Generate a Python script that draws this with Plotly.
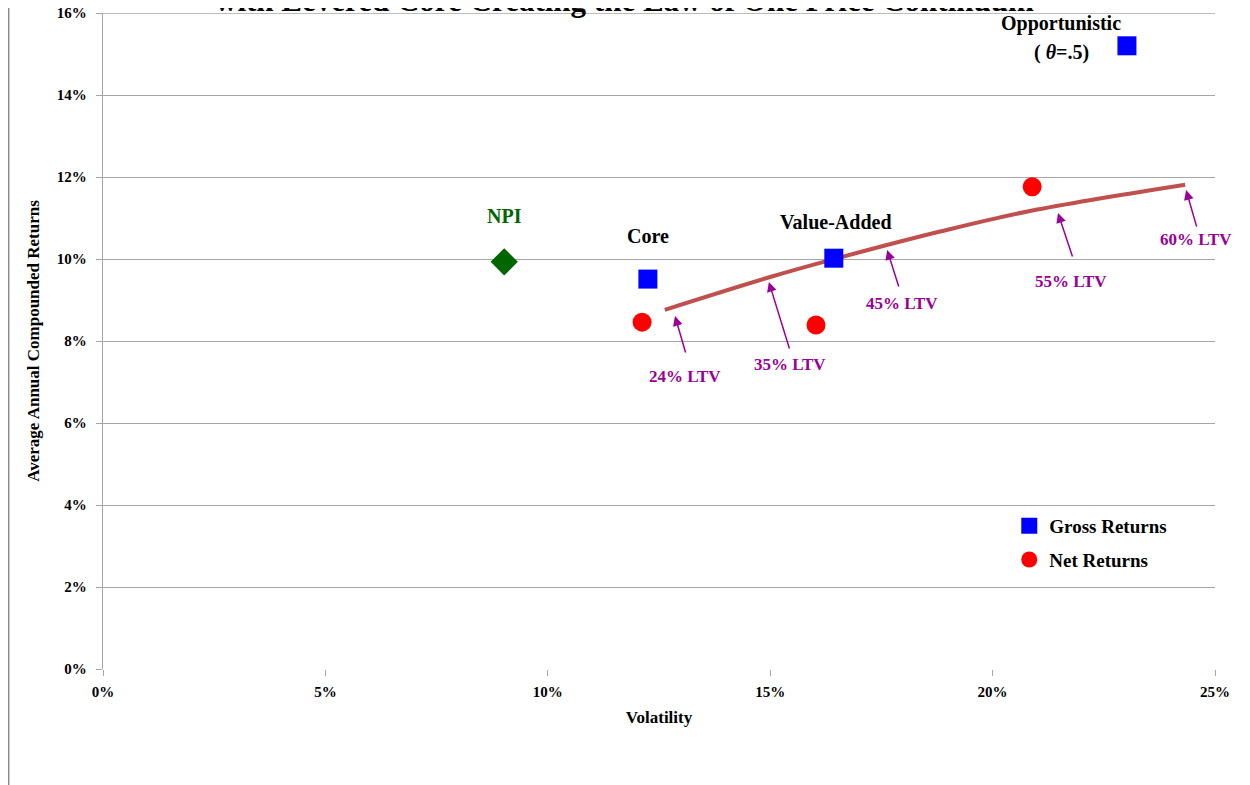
import plotly.graph_objects as go

# Données (volatilité %, rendement %)
npi_x, npi_y = [9.02], [9.93]

gross_names = ["Core", "Value-Added", "Opportunistic"]
gross_x = [12.25, 16.43, 23.02]
gross_y = [9.51, 10.02, 15.20]

net_x = [12.12, 16.03, 20.89]
net_y = [8.46, 8.39, 11.76]

# Courbe "Levered Core"
curve_x = [12.63, 15.00, 16.41, 18.82, 20.84, 24.33]
curve_y = [8.76, 9.56, 9.99, 10.67, 11.17, 11.81]

# Flèches LTV
ltv_labels = ["24% LTV", "35% LTV", "45% LTV", "55% LTV", "60% LTV"]
ltv_x = [12.86, 14.97, 17.63, 21.47, 24.35]
ltv_y = [8.61, 9.44, 10.22, 11.12, 11.68]

x_ticks = [0, 5, 10, 15, 20, 25]
y_ticks = [0, 2, 4, 6, 8, 10, 12, 14, 16]

FONT = "Liberation Serif"
PURPLE = "#990099"
GRID = "#a6a6a6"

fig = go.Figure()

fig.add_trace(go.Scatter(
    x=curve_x, y=curve_y, mode="lines", line=dict(color="#c0504d", width=4, shape="spline"),
    showlegend=False, hoverinfo="skip"))
fig.add_trace(go.Scatter(
    x=npi_x, y=npi_y, mode="markers", marker=dict(symbol="diamond", size=21, color="#006600"),
    showlegend=False))
fig.add_trace(go.Scatter(
    x=gross_x, y=gross_y, mode="markers", name="Gross Returns", legendgroup="g",
    marker=dict(symbol="square", size=19, color="#0000ff")))
fig.add_trace(go.Scatter(
    x=net_x, y=net_y, mode="markers", name="Net Returns", legendgroup="n",
    marker=dict(symbol="circle", size=19, color="#ff0000")))

# Titre (coupé en haut, comme l'original)
fig.add_annotation(text="with Levered Core Creating the Law of One Price Continuum",
                   xref="paper", yref="paper", x=0.469, y=1.0196, xanchor="center", yanchor="middle",
                   showarrow=False, font=dict(family=FONT, size=31, color="black", weight="bold"))

# Étiquettes des points
lab_font = dict(family=FONT, size=20, color="black", weight="bold")
fig.add_annotation(x=npi_x[0], y=npi_y[0], text="NPI", showarrow=False, yshift=46,
                   font=dict(family=FONT, size=20, color="#006600", weight="bold"))
fig.add_annotation(x=gross_x[0], y=gross_y[0], text="Core", showarrow=False, yshift=43, font=lab_font)
fig.add_annotation(x=gross_x[1], y=gross_y[1], text="Value-Added", showarrow=False, xshift=2, yshift=36,
                   font=lab_font)
fig.add_annotation(x=gross_x[2], y=gross_y[2], text="Opportunistic", showarrow=False, xshift=-66,
                   yshift=22, font=lab_font)
fig.add_annotation(x=gross_x[2], y=gross_y[2], text="( <i>θ</i>=.5)", showarrow=False, xshift=-65,
                   yshift=-7, font=lab_font)

# Flèches LTV : (décalage queue, décalage texte) en pixels
tails = [(11, 38), (21, 68), (12, 38), (15, 45), (11, 38)]
texts = [(10, -61), (21, -83), (15, -54), (13, -68), (10, -49)]
for lab, x, y, (ax, ay), (tx, ty) in zip(ltv_labels, ltv_x, ltv_y, tails, texts):
    fig.add_annotation(x=x, y=y, text="", showarrow=True, ax=ax, ay=ay,
                       arrowhead=2, arrowsize=1.3, arrowwidth=1.5, arrowcolor=PURPLE)
    fig.add_annotation(x=x, y=y, text=lab, showarrow=False, xshift=tx, yshift=ty,
                       font=dict(family=FONT, size=17, color=PURPLE, weight="bold"))

# Ligne de grille du haut (16 %)
fig.add_shape(type="line", xref="paper", yref="y", x0=0, x1=1, y0=y_ticks[-1], y1=y_ticks[-1],
              line=dict(color=GRID, width=1.3))

# Bordure gauche du cadre
fig.add_shape(type="line", xref="paper", yref="paper", x0=-0.0848, x1=-0.0848, y0=-0.18, y1=1.01,
              line=dict(color="#8c8c8c", width=1.5))

fig.update_layout(
    width=1242, height=777,
    paper_bgcolor="white", plot_bgcolor="white",
    margin=dict(l=95, r=35, t=5, b=116),
    font=dict(family=FONT, size=15, color="black"),
    legend=dict(x=0.815, y=0.247, xanchor="left", yanchor="top",
                font=dict(family=FONT, size=19, color="black", weight="bold"),
                traceorder="grouped", tracegroupgap=6, bgcolor="rgba(0,0,0,0)"),
    hovermode=False,
)

fig.update_xaxes(
    range=[0, 25], tickvals=x_ticks, ticktext=[f"{v}%" for v in x_ticks],
    showgrid=False, zeroline=False, showline=False, automargin=False,
    ticks="outside", ticklen=6, tickcolor=GRID, ticklabelstandoff=3,
    tickfont=dict(family=FONT, size=15, weight="bold"),
    title=dict(text="Volatility", font=dict(family=FONT, size=17, weight="bold"), standoff=12),
)
fig.update_yaxes(
    range=[0, 16], tickvals=y_ticks, ticktext=[f"{v}%" for v in y_ticks],
    showgrid=True, gridcolor=GRID, gridwidth=1.3, zeroline=False, automargin=False,
    showline=True, linecolor=GRID, linewidth=1.3,
    ticks="outside", ticklen=6, tickcolor=GRID, ticklabelstandoff=6, ticklabeloverflow="allow",
    tickfont=dict(family=FONT, size=15, weight="bold"),
    title=dict(text="Average Annual Compounded Returns", font=dict(family=FONT, size=17, weight="bold"),
               standoff=12),
)

fig.write_html("out.html")
